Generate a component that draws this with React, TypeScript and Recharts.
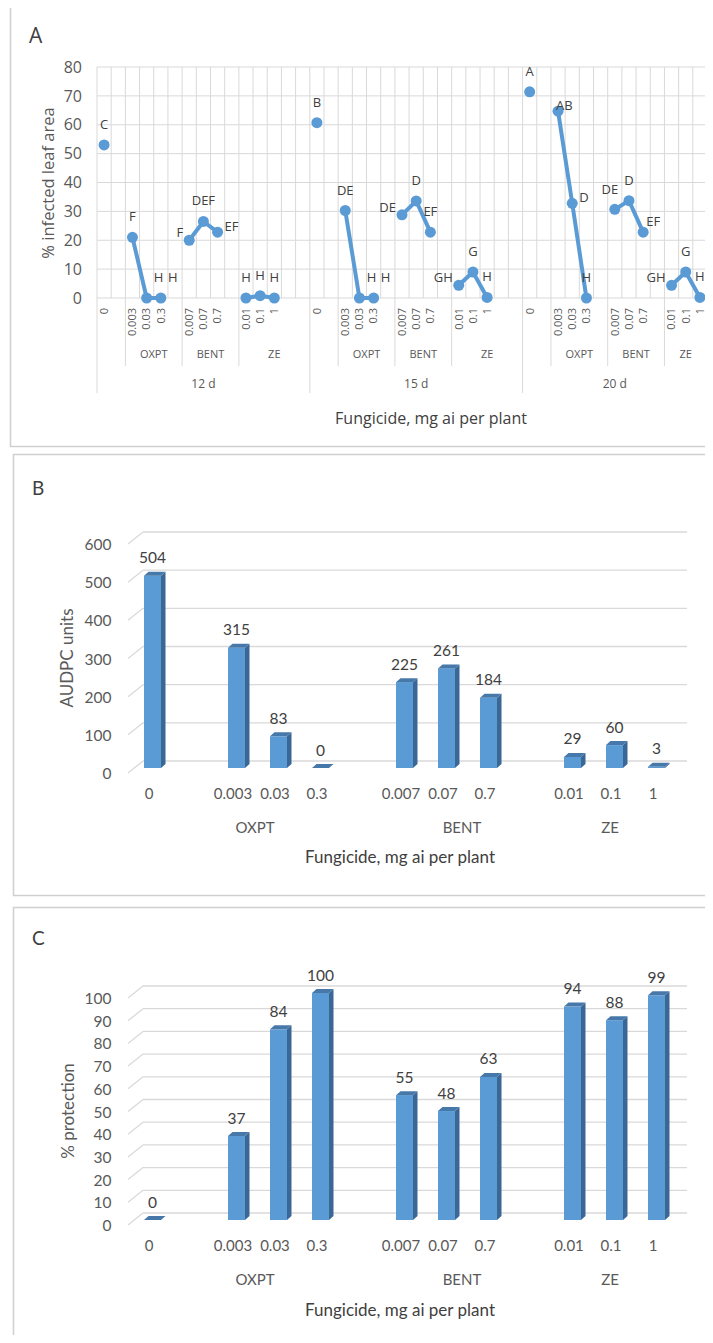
import React from "react";
import { LineChart, Line, BarChart, Bar, XAxis, YAxis, CartesianGrid, LabelList } from "recharts";

const days = ["12 d", "15 d", "20 d"];
const fungicides = ["OXPT", "BENT", "ZE"];
const controlDose = ["0"];
const oxptDoses = ["0.003", "0.03", "0.3"];
const bentDoses = ["0.007", "0.07", "0.7"];
const zeDoses = ["0.01", "0.1", "1"];

// % infected leaf area, order: 0 | OXPT | BENT | ZE
const infected12d = [53, 21, 0, 0, 20, 26.5, 22.8, 0, 0.8, 0];
const infected15d = [60.7, 30.3, 0, 0, 28.8, 33.6, 22.8, 4.4, 9, 0.2];
const infected20d = [71.4, 64.7, 32.8, 0, 30.7, 33.7, 22.8, 4.4, 9, 0.2];

const letters12d = ["C", "F", "H", "H", "F", "DEF", "EF", "H", "H", "H"];
const letters15d = ["B", "DE", "H", "H", "DE", "D", "EF", "GH", "G", "H"];
const letters20d = ["A", "AB", "D", "H", "DE", "D", "EF", "GH", "G", "H"];

// where each letter sits round its point
const spots12d = ["t", "t", "tr", "tr", "l", "t", "r", "t", "t", "t"];
const spots15d = ["t", "t", "tr", "tr", "l", "t", "t", "l", "t", "t"];
const spots20d = ["t", "ab", "r", "t", "tl", "t", "rt", "l", "t", "t"];

const audpc = [504, 315, 83, 0, 225, 261, 184, 29, 60, 3];
const protection = [0, 37, 84, 100, 55, 48, 63, 94, 88, 99];

const infectedTicks = [0, 10, 20, 30, 40, 50, 60, 70, 80];
const audpcTicks = [0, 100, 200, 300, 400, 500, 600];
const protectionTicks = [0, 10, 20, 30, 40, 50, 60, 70, 80, 90, 100];

const AXIS = "#595959";
const LABEL = "#404040";
const GRID = "#d9d9d9";
const BLUE = "#5B9BD5";
const FONT_A = "'Open Sans', 'Noto Sans', sans-serif";
const FONT_B = "Lato, 'Open Sans', sans-serif";

const PLOT_A_W = 610;

type RowA = {
  id: number;
  dose: string;
  v: number | null;
  letter: string;
  spot: string;
  group?: string;
  groupLen?: number;
  day?: string;
  dayLen?: number;
};

function buildRowsA(): RowA[] {
  const vals = [infected12d, infected15d, infected20d];
  const lets = [letters12d, letters15d, letters20d];
  const spots = [spots12d, spots15d, spots20d];
  const rows: RowA[] = [];
  days.forEach((day, d) => {
    const sets = [
      { name: "", doses: controlDose, pad: 1 },
      { name: fungicides[0], doses: oxptDoses, pad: 1 },
      { name: fungicides[1], doses: bentDoses, pad: 1 },
      { name: fungicides[2], doses: zeDoses, pad: d === days.length - 1 ? 0 : 2 },
    ];
    const dayStart = rows.length;
    let k = 0;
    sets.forEach((s) => {
      const start = rows.length;
      s.doses.forEach((dose) => {
        rows.push({ id: rows.length, dose, v: vals[d][k], letter: lets[d][k], spot: spots[d][k] });
        k++;
      });
      for (let p = 0; p < s.pad; p++) rows.push({ id: rows.length, dose: "", v: null, letter: "", spot: "" });
      rows[start].group = s.name;
      rows[start].groupLen = s.doses.length + s.pad;
    });
    rows[dayStart].day = day;
    rows[dayStart].dayLen = rows.length - dayStart;
  });
  return rows;
}

const rowsA = buildRowsA();

type RowB = { id: number; dose: string; audpc: number | null; protection: number | null; group?: string };

function buildRowsB(): RowB[] {
  const rows: RowB[] = [];
  let k = 0;
  const push = (dose: string) => {
    rows.push({ id: rows.length, dose, audpc: audpc[k], protection: protection[k] });
    k++;
  };
  controlDose.forEach(push);
  [oxptDoses, bentDoses, zeDoses].forEach((doses, g) => {
    rows.push({ id: rows.length, dose: "", audpc: null, protection: null });
    doses.forEach((dose, j) => {
      push(dose);
      if (j === 1) rows[rows.length - 1].group = fungicides[g];
    });
  });
  return rows;
}

const rowsB = buildRowsB();

const SPOT: Record<string, [number, number, "start" | "middle" | "end"]> = {
  t: [0, -21, "middle"],
  tr: [12, -21, "middle"],
  l: [-6, -8, "end"],
  r: [7, -6, "start"],
  ab: [-2, -6, "start"],
  tl: [-5, -20, "middle"],
  rt: [10, -11, "middle"],
};

function LetterLabel(props: any) {
  const { x, y, value, index } = props;
  if (value == null || value === "" || x == null || y == null) return null;
  const [dx, dy, anchor] = SPOT[rowsA[index]?.spot] || SPOT.t;
  return (
    <text x={x + dx} y={y + dy} textAnchor={anchor} dominantBaseline="central" fontSize={13} fill={LABEL} fontFamily={FONT_A}>
      {value}
    </text>
  );
}

function DoseTickA(props: any) {
  const { x, y } = props;
  const i = props.index ?? props.payload?.index;
  const row = rowsA[i];
  if (!row) return null;
  const bw = PLOT_A_W / rowsA.length;
  const left = x - bw / 2;
  const ty = y + 10;
  return (
    <g>
      {row.dose && (
        <text x={x} y={ty} transform={`rotate(-90 ${x} ${ty})`} textAnchor="end" dy="0.35em" fontSize={11} fill={AXIS} fontFamily={FONT_A}>
          {row.dose}
        </text>
      )}
      {row.group !== undefined && !row.day && <line x1={left} y1={y} x2={left} y2={y + 68} stroke={GRID} />}
      {row.group && (
        <text x={left + (row.groupLen! * bw) / 2} y={y + 60} textAnchor="middle" fontSize={11} fill={AXIS} fontFamily={FONT_A}>
          {row.group}
        </text>
      )}
      {row.day && (
        <g>
          <line x1={left} y1={y} x2={left} y2={y + 95} stroke={GRID} />
          <text x={left + (row.dayLen! * bw) / 2} y={y + 90} textAnchor="middle" fontSize={12} fill={AXIS} fontFamily={FONT_A}>
            {row.day}
          </text>
        </g>
      )}
      {i === rowsA.length - 1 && <line x1={x + bw / 2} y1={y} x2={x + bw / 2} y2={y + 95} stroke={GRID} />}
    </g>
  );
}

const groupDx: Record<string, number> = { OXPT: -23, BENT: 16, ZE: -4 };

function DoseTickB(props: any) {
  const { x, y } = props;
  const i = props.index ?? props.payload?.index;
  const row = rowsB[i];
  if (!row) return null;
  return (
    <g fontFamily={FONT_B} fontSize={15} fill={AXIS}>
      {row.dose && (
        <text x={x - 3} y={y + 25} textAnchor="middle" dominantBaseline="central">
          {row.dose}
        </text>
      )}
      {row.group && (
        <text x={x + groupDx[row.group]} y={y + 59} textAnchor="middle" dominantBaseline="central">
          {row.group}
        </text>
      )}
    </g>
  );
}

function ValueTickB(props: any) {
  const { x, y, payload } = props;
  return (
    <text x={x} y={y + 5} textAnchor="end" dominantBaseline="central" fontSize={15.5} fill={AXIS} fontFamily={FONT_B}>
      {payload.value}
    </text>
  );
}

function GridLine3D(props: any) {
  const { x1, x2, y1 } = props;
  return (
    <g key={`g-${y1}`}>
      <line x1={x1 - 3} y1={y1 + 5} x2={x1 + 12} y2={y1 - 7} stroke={GRID} strokeWidth={1.3} />
      <line x1={x1 + 12} y1={y1 - 7} x2={x2 + 10} y2={y1 - 7} stroke={GRID} strokeWidth={1.3} />
    </g>
  );
}

function Bar3D(props: any) {
  const { x, y, width, height } = props;
  if (x == null || y == null || width == null) return null;
  const h = Math.max(0, height || 0);
  const d = 4.5;
  const e = 4;
  return (
    <g>
      {h > 0 && <rect x={x} y={y} width={width} height={h} fill={BLUE} />}
      {h > 0 && (
        <polygon
          points={`${x + width},${y} ${x + width + d},${y - e} ${x + width + d},${y + h - e} ${x + width},${y + h}`}
          fill="#3A6796"
        />
      )}
      <polygon points={`${x},${y} ${x + d},${y - e} ${x + width + d},${y - e} ${x + width},${y}`} fill="#4678AA" />
    </g>
  );
}

function BarValue(props: any) {
  const { x, y, width, value } = props;
  if (value == null || x == null) return null;
  return (
    <text x={x + width / 2} y={y - 18.5} textAnchor="middle" dominantBaseline="central" fontSize={15.5} fill={LABEL} fontFamily={FONT_B}>
      {value}
    </text>
  );
}

function BarPanel({ dataKey, ticks, top, height, plotH }: { dataKey: string; ticks: number[]; top: number; height: number; plotH: number }) {
  return (
    <BarChart
      width={713}
      height={height}
      data={rowsB}
      margin={{ top, right: 36, bottom: 0, left: 91 }}
      barSize={17}
    >
      <CartesianGrid vertical={false} horizontal={(p: any) => <GridLine3D {...p} />} />
      <XAxis
        dataKey="id"
        type="category"
        interval={0}
        tickLine={false}
        axisLine={false}
        tickSize={0}
        tickMargin={0}
        height={height - top - plotH}
        tick={(p: any) => <DoseTickB {...p} />}
      />
      <YAxis
        width={40}
        domain={[0, ticks[ticks.length - 1]]}
        ticks={ticks}
        interval={0}
        tickLine={false}
        axisLine={false}
        tickSize={0}
        tickMargin={19.5}
        tick={(p: any) => <ValueTickB {...p} />}
      />
      <Bar dataKey={dataKey} isAnimationActive={false} shape={(p: any) => <Bar3D {...p} />}>
        <LabelList dataKey={dataKey} content={(p: any) => <BarValue {...p} />} />
      </Bar>
    </BarChart>
  );
}

function Overlay() {
  return (
    <svg width={713} height={1343} style={{ position: "absolute", left: 0, top: 0, pointerEvents: "none" }}>
      <rect x={10.5} y={6.5} width={701} height={440} fill="none" stroke="#d0d0d0" strokeWidth={1.5} />
      <rect x={13.5} y={454.5} width={702} height={441} fill="none" stroke="#d0d0d0" strokeWidth={1.5} />
      <rect x={13.5} y={907.5} width={702} height={445} fill="none" stroke="#d0d0d0" strokeWidth={1.5} />

      <text x={29} y={35} dominantBaseline="central" fontSize={21} fill={LABEL} fontFamily={FONT_A}>A</text>
      <text x={32} y={487} dominantBaseline="central" fontSize={19} fill={LABEL} fontFamily={FONT_B}>B</text>
      <text x={32} y={937} dominantBaseline="central" fontSize={19} fill={LABEL} fontFamily={FONT_B}>C</text>

      <text x={47} y={183} transform="rotate(-90 47 183)" textAnchor="middle" dominantBaseline="central" fontSize={16.5} fill={AXIS} fontFamily={FONT_A}>
        % infected leaf area
      </text>
      <text x={431} y={418} textAnchor="middle" dominantBaseline="central" fontSize={16} fill={LABEL} fontFamily={FONT_A}>
        Fungicide, mg ai per plant
      </text>

      <text x={66} y={658} transform="rotate(-90 66 658)" textAnchor="middle" dominantBaseline="central" fontSize={17} fill={AXIS} fontFamily={FONT_B}>
        AUDPC units
      </text>
      <text x={400} y={856} textAnchor="middle" dominantBaseline="central" fontSize={17} fill={LABEL} fontFamily={FONT_B}>
        Fungicide, mg ai per plant
      </text>

      <text x={67} y={1111} transform="rotate(-90 67 1111)" textAnchor="middle" dominantBaseline="central" fontSize={17} fill={AXIS} fontFamily={FONT_B}>
        % protection
      </text>
      <text x={400} y={1309} textAnchor="middle" dominantBaseline="central" fontSize={17} fill={LABEL} fontFamily={FONT_B}>
        Fungicide, mg ai per plant
      </text>
    </svg>
  );
}

export default function App() {
  const bwA = PLOT_A_W / rowsA.length;
  return (
    <div style={{ position: "relative", width: 713, height: 1343, margin: -8, background: "#fff", overflow: "hidden" }}>
      <div style={{ position: "absolute", left: 0, top: 0 }}>
        <LineChart width={713} height={450} data={rowsA} margin={{ top: 67, right: 6, bottom: 32, left: 57 }}>
          <CartesianGrid
            stroke={GRID}
            verticalCoordinatesGenerator={() => rowsA.map((_, i) => 97 + i * bwA).concat([97 + PLOT_A_W])}
          />
          <XAxis
            dataKey="id"
            type="category"
            scale="band"
            interval={0}
            tickLine={false}
            axisLine={false}
            tickSize={0}
            tickMargin={0}
            height={120}
            tick={(p: any) => <DoseTickA {...p} />}
          />
          <YAxis
            width={40}
            domain={[0, 80]}
            ticks={infectedTicks}
            interval={0}
            tickLine={false}
            axisLine={false}
            tickSize={0}
            tickMargin={15}
            tick={{ fontSize: 16, fill: AXIS, fontFamily: FONT_A }}
          />
          <Line
            dataKey="v"
            stroke={BLUE}
            strokeWidth={4}
            dot={{ r: 5.5, fill: BLUE, stroke: BLUE, strokeWidth: 0 }}
            connectNulls={false}
            isAnimationActive={false}
          >
            <LabelList dataKey="letter" content={(p: any) => <LetterLabel {...p} />} />
          </Line>
        </LineChart>
      </div>
      <div style={{ position: "absolute", left: 0, top: 450 }}>
        <BarPanel dataKey="audpc" ticks={audpcTicks} top={89} height={450} plotH={229} />
      </div>
      <div style={{ position: "absolute", left: 0, top: 900 }}>
        <BarPanel dataKey="protection" ticks={protectionTicks} top={93} height={443} plotH={227} />
      </div>
      <Overlay />
    </div>
  );
}
